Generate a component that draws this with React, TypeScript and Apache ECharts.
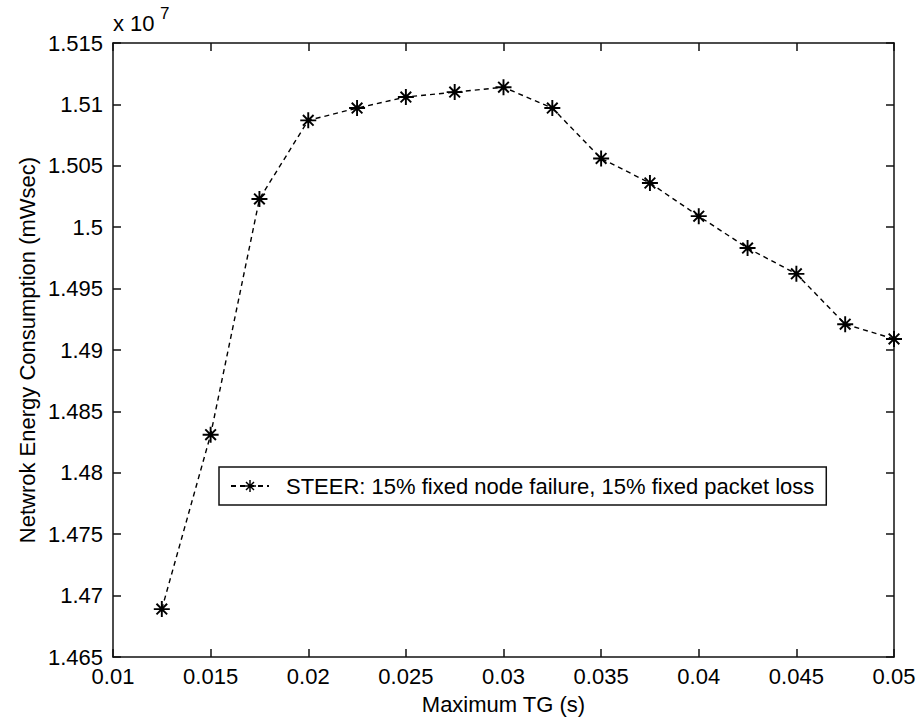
import React, { useEffect, useRef } from "react";
import * as echarts from "echarts";

const xValues = [0.0125, 0.015, 0.0175, 0.02, 0.0225, 0.025, 0.0275, 0.03, 0.0325, 0.035, 0.0375, 0.04, 0.0425, 0.045, 0.0475, 0.05];
const yValues = [1.4689, 1.4831, 1.5023, 1.5087, 1.5097, 1.5106, 1.5110, 1.5114, 1.5097, 1.5056, 1.5036, 1.5009, 1.4983, 1.4962, 1.4921, 1.4909];
const seriesName = "STEER: 15% fixed node failure, 15% fixed packet loss";
const xAxisTitle = "Maximum TG (s)";
const yAxisTitle = "Netwrok Energy Consumption (mWsec)";
const yExponentBase = "x 10";
const yExponent = "7";

const FONT = "'Liberation Sans', Arial, Helvetica, sans-serif";
const FS = 22;

const asterisk =
  "path://M8.8 0L11.2 0L11.2 20L8.8 20Z M0 8.8L20 8.8L20 11.2L0 11.2Z M2.5 4.2L4.2 2.5L17.5 15.8L15.8 17.5Z M15.8 2.5L17.5 4.2L4.2 17.5L2.5 15.8Z M7 7L13 7L13 13L7 13Z";

const fmt = (v: number) => parseFloat(v.toFixed(4)).toString();

export default function App() {
  const ref = useRef<HTMLDivElement>(null);
  useEffect(() => {
    if (!ref.current) return;
    const chart = echarts.init(ref.current, undefined, { renderer: "svg" });
    const axisCommon = {
      axisLine: { show: true, onZero: false, lineStyle: { color: "#111", width: 1.5 } },
      axisTick: { show: true, inside: true, length: 8, lineStyle: { color: "#111", width: 1.5 } },
      splitLine: { show: false },
    };
    chart.setOption({
      animation: false,
      backgroundColor: "#fff",
      grid: { left: 113, right: 25, top: 43, bottom: 67, containLabel: false },
      textStyle: { fontFamily: FONT },
      xAxis: [
        {
          type: "value",
          min: 0.01,
          max: 0.05,
          interval: 0.005,
          position: "bottom",
          ...axisCommon,
          axisLabel: { color: "#000", fontSize: FS, fontFamily: FONT, margin: 8, formatter: fmt },
          name: xAxisTitle,
          nameLocation: "middle",
          nameGap: 36,
          nameTextStyle: { color: "#000", fontSize: FS, fontFamily: FONT },
        },
        {
          type: "value",
          min: 0.01,
          max: 0.05,
          interval: 0.005,
          position: "top",
          ...axisCommon,
          axisLabel: { show: false },
        },
      ],
      yAxis: [
        {
          type: "value",
          min: 1.465,
          max: 1.515,
          interval: 0.005,
          position: "left",
          ...axisCommon,
          axisLabel: { color: "#000", fontSize: FS, fontFamily: FONT, margin: 10, formatter: fmt },
        },
        {
          type: "value",
          min: 1.465,
          max: 1.515,
          interval: 0.005,
          position: "right",
          ...axisCommon,
          axisLabel: { show: false },
        },
      ],
      legend: {
        show: true,
        left: 219,
        top: 467,
        orient: "horizontal",
        backgroundColor: "#fff",
        borderColor: "#111",
        borderWidth: 1.5,
        borderRadius: 0,
        padding: [8, 12, 8, 11],
        itemWidth: 38,
        itemHeight: 15,
        itemGap: 0,
        textStyle: { color: "#000", fontSize: FS, fontFamily: FONT, padding: [0, 0, 0, 12] },
        data: [{ name: seriesName }],
      },
      graphic: [
        {
          type: "text",
          x: 27,
          y: 350,
          rotation: Math.PI / 2,
          style: {
            text: yAxisTitle,
            fill: "#000",
            font: `${FS}px ${FONT}`,
            align: "center",
            verticalAlign: "middle",
            textAlign: "center",
            textVerticalAlign: "middle",
          },
        },
        {
          type: "text",
          x: 113,
          y: 34,
          style: {
            text: yExponentBase,
            fill: "#000",
            font: `${FS}px ${FONT}`,
            align: "left",
            verticalAlign: "bottom",
            textAlign: "left",
            textVerticalAlign: "bottom",
          },
        },
        {
          type: "text",
          x: 160,
          y: 22,
          style: {
            text: yExponent,
            fill: "#000",
            font: `${FS - 5}px ${FONT}`,
            align: "left",
            verticalAlign: "bottom",
            textAlign: "left",
            textVerticalAlign: "bottom",
          },
        },
      ],
      series: [
        {
          name: seriesName,
          type: "line",
          xAxisIndex: 0,
          yAxisIndex: 0,
          data: xValues.map((x, i) => [x, yValues[i]]),
          symbol: asterisk,
          symbolSize: 16,
          showSymbol: true,
          itemStyle: { color: "#000" },
          lineStyle: { color: "#000", width: 1.4, type: [5, 4] },
          z: 3,
        },
      ],
    });
    return () => chart.dispose();
  }, []);
  return (
    <div
      ref={ref}
      style={{ position: "absolute", left: 0, top: 0, width: 919, height: 724 }}
    />
  );
}
